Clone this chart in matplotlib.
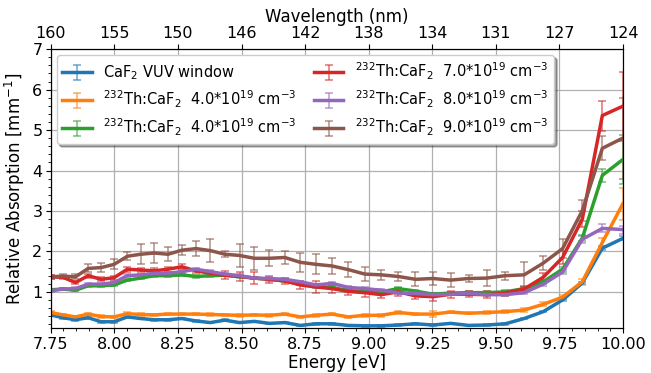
import numpy as np
import matplotlib
matplotlib.use("Agg")
import matplotlib.pyplot as plt
from matplotlib.ticker import MultipleLocator

# wavelengths of the measurement points (nm)
wavelength = np.arange(160, 123, -1)
energy = 1239.84 / wavelength

labels = [
    r"CaF$_2$ VUV window",
    r"$^{232}$Th:CaF$_2$  4.0*10$^{19}$ cm$^{-3}$",
    r"$^{232}$Th:CaF$_2$  4.0*10$^{19}$ cm$^{-3}$",
    r"$^{232}$Th:CaF$_2$  7.0*10$^{19}$ cm$^{-3}$",
    r"$^{232}$Th:CaF$_2$  8.0*10$^{19}$ cm$^{-3}$",
    r"$^{232}$Th:CaF$_2$  9.0*10$^{19}$ cm$^{-3}$",
]
colors = ["#1f77b4", "#ff7f0e", "#2ca02c", "#d62728", "#9467bd", "#8c564b"]

blue = [0.43,0.36,0.31,0.36,0.26,0.26,0.38,0.34,0.31,0.31,0.34,0.28,0.24,0.30,0.24,0.27,0.22,0.24,0.17,0.21,0.21,0.17,0.16,0.16,0.18,0.21,0.18,0.22,0.17,0.18,0.21,0.34,0.51,0.80,1.22,2.08,2.32]
orange = [0.49,0.43,0.38,0.45,0.39,0.38,0.46,0.44,0.43,0.45,0.45,0.45,0.44,0.43,0.42,0.43,0.42,0.45,0.38,0.42,0.45,0.38,0.42,0.42,0.49,0.45,0.45,0.50,0.47,0.49,0.51,0.55,0.69,0.87,1.25,2.22,3.17]
green = [1.05,1.07,1.04,1.15,1.15,1.17,1.29,1.34,1.40,1.40,1.42,1.38,1.40,1.41,1.38,1.34,1.31,1.27,1.19,1.13,1.11,1.03,1.01,1.00,1.08,1.02,0.94,0.97,0.98,0.98,1.00,1.08,1.25,1.56,2.33,3.88,4.27]
red = [1.37,1.36,1.23,1.40,1.31,1.35,1.56,1.54,1.52,1.56,1.62,1.52,1.46,1.41,1.38,1.34,1.31,1.27,1.17,1.12,1.08,1.01,0.98,0.93,1.00,0.90,0.88,0.94,0.94,0.93,0.97,1.07,1.36,1.85,2.80,5.36,5.59]
purple = [1.02,1.07,1.08,1.19,1.19,1.23,1.40,1.42,1.46,1.46,1.50,1.56,1.50,1.44,1.40,1.34,1.33,1.31,1.25,1.17,1.21,1.11,1.08,1.04,0.97,0.96,0.93,0.94,0.96,0.93,0.93,0.98,1.19,1.49,2.30,2.57,2.54]
brown = [1.37,1.39,1.37,1.58,1.60,1.68,1.88,1.93,1.96,1.93,2.03,2.07,2.02,1.93,1.90,1.83,1.83,1.85,1.73,1.68,1.64,1.55,1.44,1.42,1.38,1.31,1.33,1.29,1.33,1.34,1.40,1.42,1.71,2.07,3.01,4.55,4.80]

blue_err = [0.02]*35 + [0.05, 0.05]
orange_err = [0.03]*26 + [0.08] + [0.03]*4 + [0.04, 0.05, 0.05, 0.08, 0.10, 0.40]
green_err = [0.03]*31 + [0.04, 0.05, 0.06, 0.08, 0.16, 0.60]
red_err = [0.04,0.04,0.04,0.05,0.05,0.05,0.06,0.05,0.06,0.06,0.06,0.05,0.06,0.10,0.12,0.15,0.08,0.07,0.10,0.15,0.10,0.08,0.10,0.08,0.10,0.08,0.10,0.08,0.07,0.08,0.07,0.08,0.10,0.15,0.20,0.37,0.85]
purple_err = [0.03]*31 + [0.04, 0.05, 0.06, 0.08, 0.10, 0.10]
brown_err = [0.04,0.04,0.06,0.10,0.12,0.12,0.10,0.25,0.25,0.17,0.12,0.18,0.29,0.08,0.29,0.29,0.20,0.17,0.23,0.25,0.20,0.19,0.17,0.12,0.10,0.17,0.17,0.17,0.08,0.20,0.10,0.31,0.17,0.23,0.25,0.30,1.00]

series = [blue, orange, green, red, purple, brown]
errors = [blue_err, orange_err, green_err, red_err, purple_err, brown_err]

top_ticks = [7.75, 8.0, 8.25, 8.5, 8.75, 9.0, 9.25, 9.5, 9.75, 10.0]
top_labels = ["160", "155", "150", "146", "142", "138", "134", "131", "127", "124"]

fig = plt.figure(figsize=(6.51, 3.73), dpi=100)
ax = fig.add_axes([0.078, 0.12, 0.879, 0.748])

for y, e, c, lab in zip(series, errors, colors, labels):
    line, caps, bars = ax.errorbar(energy, y, yerr=e, color=c, lw=2.5,
                                   elinewidth=1.2, capsize=3, capthick=1.2,
                                   label=lab)
    for cp in caps:
        cp.set_alpha(0.6)
    for b in bars:
        b.set_alpha(0.6)

ax.set_xlim(7.75, 10.0)
ax.set_ylim(0.1, 7)
ax.xaxis.set_major_locator(MultipleLocator(0.25))
ax.xaxis.set_minor_locator(MultipleLocator(0.05))
ax.yaxis.set_major_locator(MultipleLocator(1))
ax.yaxis.set_minor_locator(MultipleLocator(0.2))
ax.xaxis.set_major_formatter(matplotlib.ticker.FormatStrFormatter("%.2f"))
ax.grid(True, which="major", color="#b0b0b0", lw=0.9)
ax.tick_params(labelsize=11.5, pad=2.5)
ax.set_xlabel("Energy [eV]", fontsize=12, labelpad=2)
ax.set_ylabel(r"Relative Absorption [mm$^{-1}$]", fontsize=12)

ax2 = ax.twiny()
ax2.set_xlim(ax.get_xlim())
ax2.set_xticks(top_ticks)
ax2.set_xticklabels(top_labels)
ax2.tick_params(labelsize=11.5, pad=2.5)
ax2.set_xlabel("Wavelength (nm)", fontsize=12, labelpad=3)

leg = ax.legend(loc="upper left", ncol=2, fontsize=10.5, shadow=True,
                framealpha=1, borderaxespad=0.4, columnspacing=1.2,
                handlelength=2.0, labelspacing=0.45)

fig.savefig("out.png", dpi=100)
